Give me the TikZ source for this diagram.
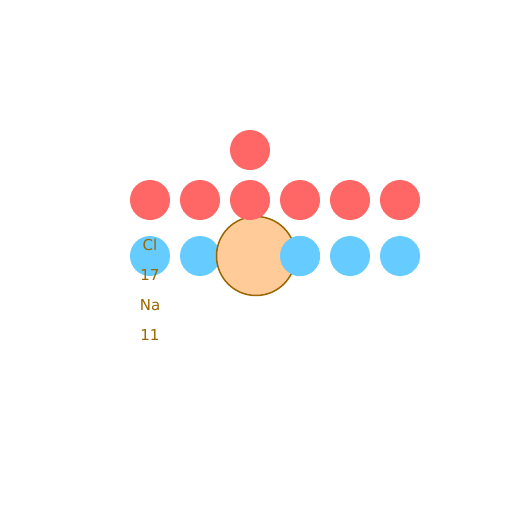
\documentclass[tikz,border=0pt]{standalone}
\usepackage{fontspec}
\setmainfont{DejaVu Sans}
\definecolor{redc}{HTML}{FF6666}
\definecolor{bluec}{HTML}{66CCFF}
\definecolor{orangec}{HTML}{FFCC99}
\definecolor{brownc}{HTML}{996600}
\begin{document}
\begin{tikzpicture}[x=1pt,y=-1pt,
  redatom/.style={circle,fill=redc,minimum size=40pt,inner sep=0pt},
  blueatom/.style={circle,fill=bluec,minimum size=40pt,inner sep=0pt},
  lbl/.style={text=brownc,font=\fontsize{15}{18}\selectfont,inner sep=0pt}]
\useasboundingbox (0,0) rectangle (512,512);
\foreach \x [count=\i] in {150,200,250,300,350,400}
  \node[blueatom] (b\i) at (\x,256) {};
\node[circle,fill=orangec,draw=brownc,line width=1.5pt,minimum size=79pt,inner sep=0pt] (core) at (256,256) {};
\node[blueatom] (b4) at (300,256) {};
\foreach \x [count=\i] in {150,200,250,300,350,400}
  \node[redatom] (r\i) at (\x,200) {};
\node[redatom] (rtop) at (250,150) {};
\node[lbl] (cl) at (150,245) {Cl};
\node[lbl] (z17) at (150,275) {17};
\node[lbl] (na) at (150,305) {Na};
\node[lbl] (z11) at (150,335) {11};
\end{tikzpicture}
\end{document}
